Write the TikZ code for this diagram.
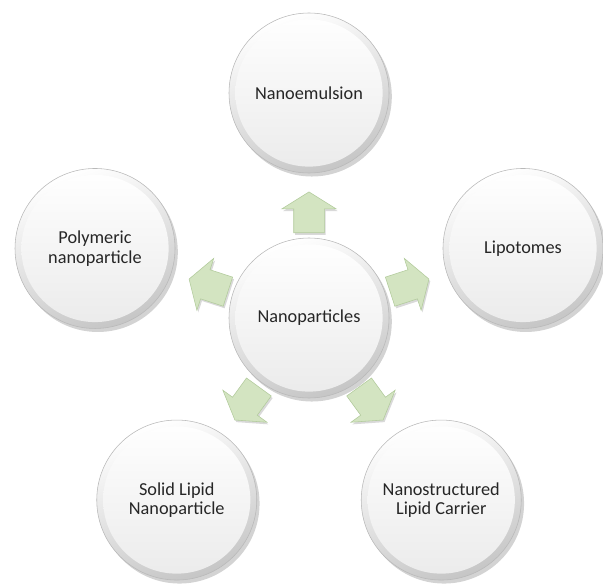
\documentclass[tikz,border=0pt]{standalone}
\usepackage{fontspec}
\setmainfont{Carlito}
\usetikzlibrary{calc, shadows, shapes.arrows}

\definecolor{leaf}{RGB}{211,228,193}
\definecolor{leafline}{RGB}{178,203,156}

\tikzset{
  bubble/.style={circle, minimum size=4cm, inner sep=0pt, align=center,
    font=\fontsize{13}{13.8}\selectfont, text=black!85,
    draw=gray!55, top color=white, bottom color=gray!45, shading angle=20,
    drop shadow={opacity=0.35, shadow xshift=2pt, shadow yshift=-2.5pt},
    path picture={\shade[top color=white, bottom color=gray!16]
      (path picture bounding box.center) circle (1.84cm);}},
  flow/.style={single arrow, draw=leafline, fill=leaf, minimum height=1.02cm,
    inner xsep=0pt, inner ysep=0.375cm, single arrow head extend=0.3cm,
    single arrow tip angle=116, anchor=tail, rotate=#1,
    drop shadow={opacity=0.3, shadow xshift=1pt, shadow yshift=-1.5pt}}
}

\begin{document}
\begin{tikzpicture}
\useasboundingbox (-7.725,-6.65) rectangle (7.35,7.95);

% Define nodes
\path (0,0) node[bubble] (hub) {Nanoparticles}
  (90:5.625) node[bubble] (emul) {Nanoemulsion}
  (18:5.625) node[bubble] (lipo) {Lipotomes}
  (-54:5.625) node[bubble] (nlc) {Nanostructured\\Lipid Carrier}
  (-126:5.625) node[bubble] (sln) {Solid Lipid\\Nanoparticle}
  (162:5.625) node[bubble] (poly) {Polymeric\\nanoparticle}
;

% Arrows out of the hub
\foreach \n/\a in {emul/90, lipo/18, nlc/-54, sln/-126, poly/162}
  \node[flow=\a] (to-\n) at ($(hub)!2.125cm!(\n)$) {};

\end{tikzpicture}
\end{document}
